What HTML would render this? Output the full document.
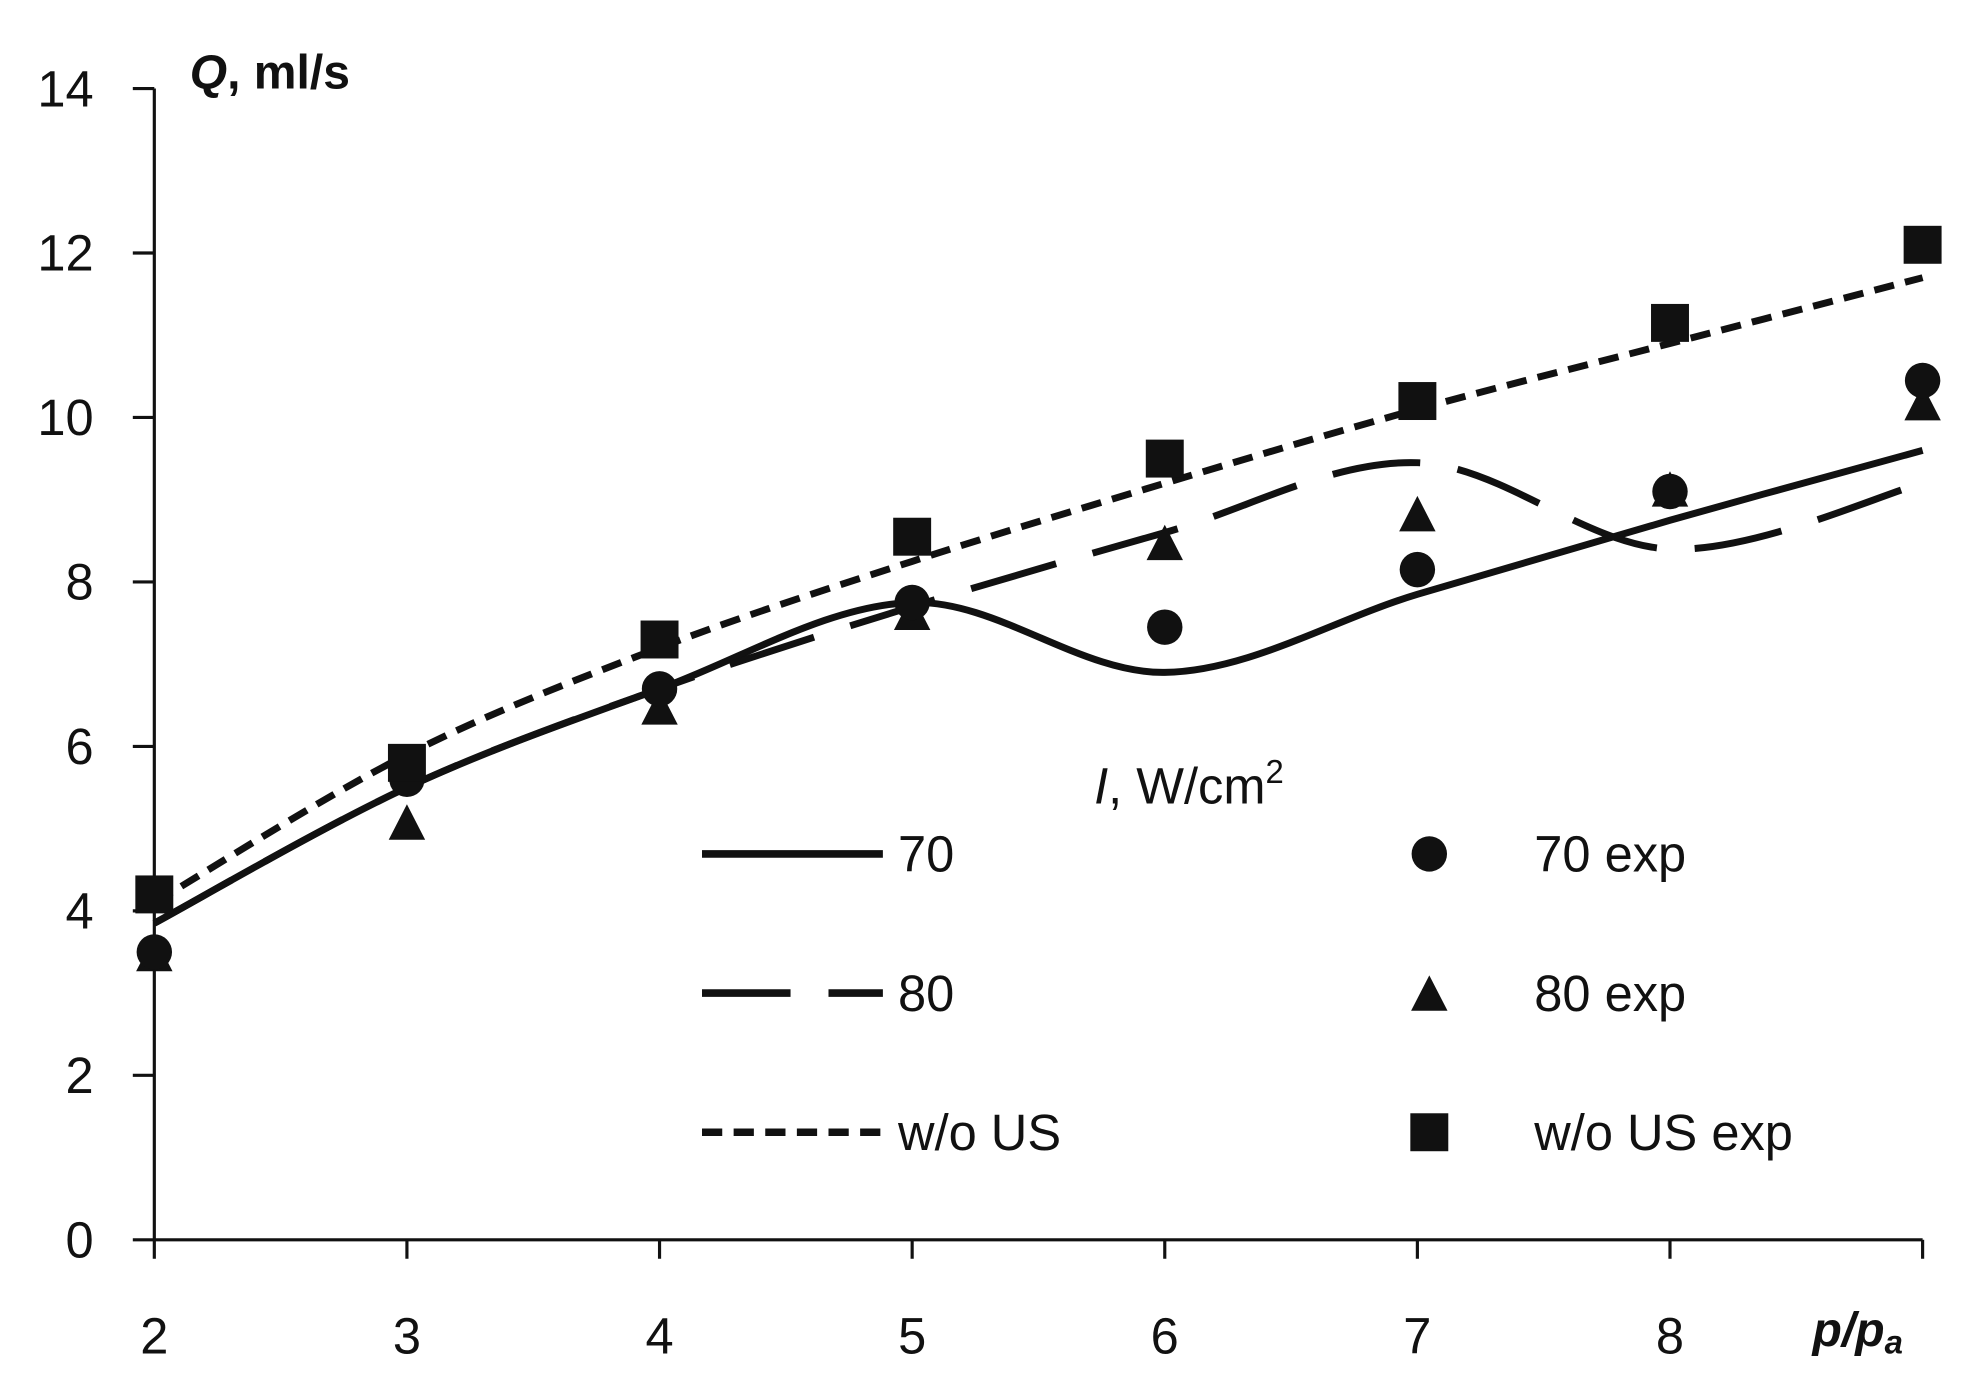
<!DOCTYPE html>
<html><head><meta charset="utf-8"><style>html,body{margin:0;padding:0;background:#fff}svg{display:block}text{font-family:"Liberation Sans",sans-serif;fill:#111}</style></head>
<body>
<svg id="chart" width="1977" height="1384" viewBox="0 0 1563 1094" preserveAspectRatio="none" xmlns="http://www.w3.org/2000/svg">
<g id="axes"></g><g id="series"></g><g id="legend"></g>
</svg>
<script>
const xCats = [2,3,4,5,6,7,8,9];
const xTickLabels = ["2","3","4","5","6","7","8"];
const yTicks = [0,2,4,6,8,10,12,14];
const line70 = [3.85,5.5,6.7,7.75,6.9,7.85,8.75,9.6];
const line80 = [3.85,5.5,6.7,7.7,8.6,9.45,8.4,9.2];
const lineWoUS = [4.1,5.9,7.2,8.25,9.2,10.1,10.9,11.7];
const exp70 = [3.5,5.6,6.7,7.75,7.45,8.15,9.1,10.45];
const exp80 = [3.45,5.05,6.45,7.6,8.45,8.8,9.1,10.15];
const expWoUS = [4.2,5.8,7.3,8.55,9.5,10.2,11.15,12.1];

const NS="http://www.w3.org/2000/svg";
const X0=122,X1=1520,Y0=980,Y1=70;
function sx(v){return X0+(v-2)/(9-2)*(X1-X0);}
function sy(v){return Y0-(v-0)/(14-0)*(Y0-Y1);}
function mk(tag,attrs,parent){const e=document.createElementNS(NS,tag);for(const k in attrs)e.setAttribute(k,attrs[k]);parent.appendChild(e);return e;}
const axes=document.getElementById('axes'),series=document.getElementById('series'),legend=document.getElementById('legend');

const ya=mk('line',{x1:X0,y1:Y1,x2:X0,y2:Y0,stroke:'#111','stroke-width':2.5},axes);


const xa=mk('line',{x1:X0,y1:Y0,x2:X1,y2:Y0,stroke:'#111','stroke-width':2.5},axes);


yTicks.forEach(t=>{
  mk('line',{x1:X0-17,y1:sy(t),x2:X0,y2:sy(t),stroke:'#111','stroke-width':2.5},axes);
  const tx=mk('text',{x:74,y:sy(t)+14,'text-anchor':'end','font-size':40},axes);
  tx.textContent=t;
  
  
});
xCats.forEach((c)=>{
  mk('line',{x1:sx(c),y1:Y0,x2:sx(c),y2:Y0+15,stroke:'#111','stroke-width':2.5},axes);
});
xTickLabels.forEach(l=>{
  const tx=mk('text',{x:sx(+l),y:1070,'text-anchor':'middle','font-size':40},axes);
  tx.textContent=l;
  
  
});
const yt=mk('text',{x:150,y:70,'font-size':38,'font-weight':'bold'},axes);
yt.innerHTML='<tspan font-style="italic">Q</tspan>, ml/s';


const xt=mk('text',{x:1433,y:1064,'font-size':38,'font-weight':'bold','font-style':'italic'},axes);
xt.innerHTML='p/p<tspan font-size="26" dy="6">a</tspan>';



function smooth(vals){
  const p=vals.map((v,i)=>[sx(xCats[i]),sy(v)]);
  let d=`M${p[0][0]},${p[0][1]}`;
  for(let i=0;i<p.length-1;i++){
    const p0=p[Math.max(0,i-1)],p1=p[i],p2=p[i+1],p3=p[Math.min(p.length-1,i+2)];
    const c1=[p1[0]+(p2[0]-p0[0])/6,p1[1]+(p2[1]-p0[1])/6];
    const c2=[p2[0]-(p3[0]-p1[0])/6,p2[1]-(p3[1]-p1[1])/6];
    d+=` C${c1[0]},${c1[1]} ${c2[0]},${c2[1]} ${p2[0]},${p2[1]}`;
  }
  return d;
}
const l70=mk('path',{d:smooth(line70),fill:'none',stroke:'#111','stroke-width':5.5},series);


const l80=mk('path',{d:smooth(line80),fill:'none',stroke:'#111','stroke-width':5.5,'stroke-dasharray':'70 30'},series);


const lw=mk('path',{d:smooth(lineWoUS),fill:'none',stroke:'#111','stroke-width':5.5,'stroke-dasharray':'16 9'},series);



function tri(cx,cy,s){return `${cx},${cy-s} ${cx-s*0.9},${cy+s*0.75} ${cx+s*0.9},${cy+s*0.75}`;}
exp80.forEach((v,i)=>{
  const t=mk('polygon',{points:tri(sx(xCats[i]),sy(v),16),fill:'#111'},series);
  
  
});
exp70.forEach((v,i)=>{
  const c=mk('ellipse',{cx:sx(xCats[i]),cy:sy(v),rx:14,ry:14,fill:'#111'},series);
  
  
});
expWoUS.forEach((v,i)=>{
  const r=mk('rect',{x:sx(xCats[i])-15,y:sy(v)-15,width:30,height:30,fill:'#111'},series);
  
  
});

const lt=mk('text',{x:865,y:635,'font-size':40},legend);
lt.innerHTML='<tspan font-style="italic">I</tspan>, W/cm<tspan font-size="26" dy="-16">2</tspan>';


const rows=[675,785,895];
const dashes=['none','70 30','16 9'];
const names=['70','80','w/o US'];
rows.forEach((y,i)=>{
  const s=mk('line',{x1:555,y1:y,x2:698,y2:y,stroke:'#111','stroke-width':6,'stroke-dasharray':dashes[i]},legend);
  
  
  const t=mk('text',{x:710,y:y+14,'font-size':40},legend);
  t.textContent=names[i];
  
  
  const t2=mk('text',{x:1213,y:y+14,'font-size':40},legend);
  t2.textContent=names[i]+' exp';
  
  
});
const lc=mk('ellipse',{cx:1130,cy:675,rx:14,ry:14,fill:'#111'},legend);


const ltr=mk('polygon',{points:tri(1130,787,16),fill:'#111'},legend);


const lsq=mk('rect',{x:1115,y:880,width:30,height:30,fill:'#111'},legend);


</script>
</body></html>
